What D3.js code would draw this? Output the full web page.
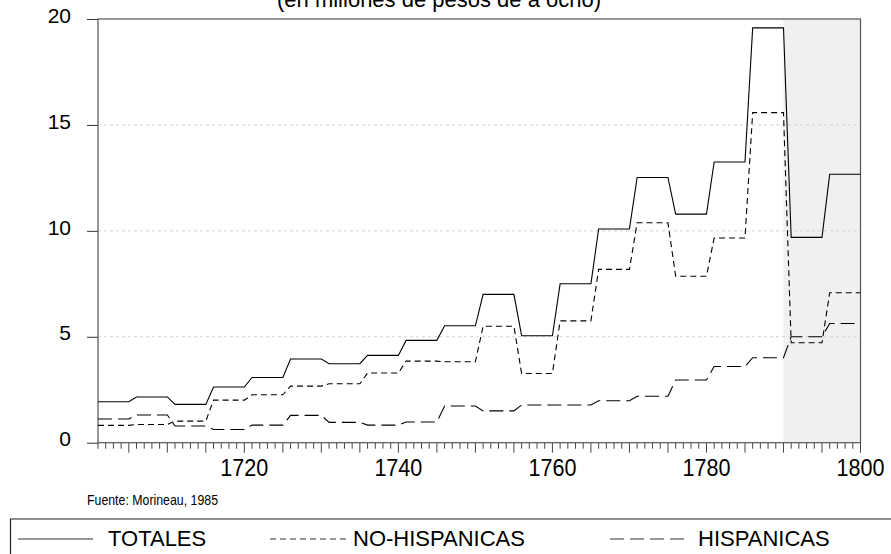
<!DOCTYPE html>
<html>
<head>
<meta charset="utf-8">
<script src="https://cdn.jsdelivr.net/npm/d3@7"></script>
<style>
  html, body { margin: 0; padding: 0; background: #fff; }
  svg { display: block; }
  text { font-family: Arial, "Liberation Sans", sans-serif; fill: #000; }
</style>
</head>
<body>
<svg id="chart" width="891" height="554"></svg>
<script>
// ---- data (5-year periods, millions of pesos de a ocho) ----
const periodStart = [1701, 1706, 1711, 1716, 1721, 1726, 1731, 1736, 1741, 1746,
                     1751, 1756, 1761, 1766, 1771, 1776, 1781, 1786, 1791, 1796];
const periodEnd   = [1705, 1710, 1715, 1720, 1725, 1730, 1735, 1740, 1745, 1750,
                     1755, 1760, 1765, 1770, 1775, 1780, 1785, 1790, 1795, 1800];
const totales     = [1.93, 2.16, 1.81, 2.63, 3.08, 3.95, 3.73, 4.12, 4.83, 5.52,
                     7.00, 5.05, 7.50, 10.09, 12.52, 10.79, 13.25, 19.58, 9.69, 12.67];
const noHispanicas = [0.82, 0.86, 1.02, 2.01, 2.26, 2.67, 2.78, 3.29, 3.85, 3.82,
                     5.50, 3.27, 5.75, 8.18, 10.38, 7.86, 9.66, 15.58, 4.72, 7.08];
const hispanicas  = [1.12, 1.31, 0.79, 0.62, 0.83, 1.29, 0.96, 0.83, 0.98, 1.73,
                     1.50, 1.78, 1.78, 1.98, 2.19, 2.96, 3.60, 4.01, 5.00, 5.63];
const yTicks = [0, 5, 10, 15, 20];
const yGrid = [5, 10, 15];
const xLabelYears = [1720, 1740, 1760, 1780, 1800];
const shadeRange = [1790, 1800];
const titleText = "(en millones de pesos de a ocho)";
const sourceText = "Fuente: Morineau, 1985";
const legendNames = ["TOTALES", "NO-HISPANICAS", "HISPANICAS"];

// ---- layout ----
const svg = d3.select("#chart");
const x = d3.scaleLinear().domain([1701, 1800]).range([98, 860.5]);
const y = d3.scaleLinear().domain([0, 20]).range([442.7, 19]);

// shaded region
svg.append("rect")
  .attr("x", x(shadeRange[0])).attr("y", y(20))
  .attr("width", x(shadeRange[1]) - x(shadeRange[0]))
  .attr("height", y(0) - y(20))
  .attr("fill", "#f0f0f0");

// gridlines
svg.append("g").selectAll("line").data(yGrid).join("line")
  .attr("x1", x(1701)).attr("x2", x(1800))
  .attr("y1", d => y(d)).attr("y2", d => y(d))
  .attr("stroke", "#d3d3d3").attr("stroke-width", 1)
  .attr("stroke-dasharray", "3,3");

// y axis
const yAxis = d3.axisLeft(y).tickValues(yTicks).tickSize(11).tickPadding(16)
  .tickFormat(d3.format("d"));
const gy = svg.append("g").attr("transform", `translate(${x(1701)},0)`).call(yAxis);
gy.select(".domain").remove();
gy.selectAll(".tick line").attr("stroke", "#333");
gy.selectAll(".tick text").attr("font-size", 21).attr("dy", "0.15em")
  .style("font-family", "Arial, 'Liberation Sans', sans-serif");

// x axis minor ticks (every year) and major ticks (every 5 years)
const minorYears = d3.range(1701, 1801);
const gx = svg.append("g");
gx.selectAll("line.minor").data(minorYears).join("line")
  .attr("class", "minor")
  .attr("x1", d => x(d)).attr("x2", d => x(d))
  .attr("y1", y(0)).attr("y2", d => y(0) + (d % 5 === 0 ? 10 : 6))
  .attr("stroke", "#444").attr("stroke-width", 1);
gx.selectAll("text").data(xLabelYears).join("text")
  .attr("x", d => x(d)).attr("y", 476)
  .attr("text-anchor", "middle")
  .attr("font-size", 24.5)
  .attr("textLength", 48).attr("lengthAdjust", "spacingAndGlyphs")
  .text(d => d);

// frame
svg.append("rect")
  .attr("x", x(1701)).attr("y", y(20))
  .attr("width", x(1800) - x(1701)).attr("height", y(0) - y(20))
  .attr("fill", "none").attr("stroke", "#555").attr("stroke-width", 1.2);

// series
function pts(vals) {
  const p = [];
  vals.forEach((v, i) => { p.push([periodStart[i], v]); p.push([periodEnd[i], v]); });
  return p;
}
const line = d3.line().x(d => x(d[0])).y(d => y(d[1]));
const series = [
  {vals: totales, dash: null},
  {vals: noHispanicas, dash: "6,4"},
  {vals: hispanicas, dash: "14,6"}
];
series.forEach(s => {
  svg.append("path").datum(pts(s.vals))
    .attr("d", line)
    .attr("fill", "none").attr("stroke", "#000").attr("stroke-width", 1.1)
    .attr("stroke-dasharray", s.dash);
});

// title (cut at top, as in the reference)
svg.append("text").attr("x", 277).attr("y", 7)
  .attr("font-size", 22).text(titleText);

// source
svg.append("text").attr("x", 87).attr("y", 505)
  .attr("font-size", 15)
  .attr("textLength", 131).attr("lengthAdjust", "spacingAndGlyphs")
  .text(sourceText);

// legend box
svg.append("path")
  .attr("d", `M 891 519 H 10.5 V 560`)
  .attr("fill", "none").attr("stroke", "#222").attr("stroke-width", 1.2);

const legendItems = [
  {x1: 18, x2: 93, tx: 108, dash: null},
  {x1: 270, x2: 346, tx: 353, dash: "6,4"},
  {x1: 610, x2: 686, tx: 698, dash: "14,6"}
];
legendItems.forEach((it, i) => {
  svg.append("line")
    .attr("x1", it.x1).attr("x2", it.x2).attr("y1", 539).attr("y2", 539)
    .attr("stroke", "#333").attr("stroke-width", 1.1)
    .attr("stroke-dasharray", it.dash);
  svg.append("text").attr("x", it.tx).attr("y", 546)
    .attr("font-size", 22).text(legendNames[i]);
});
</script>
</body>
</html>
